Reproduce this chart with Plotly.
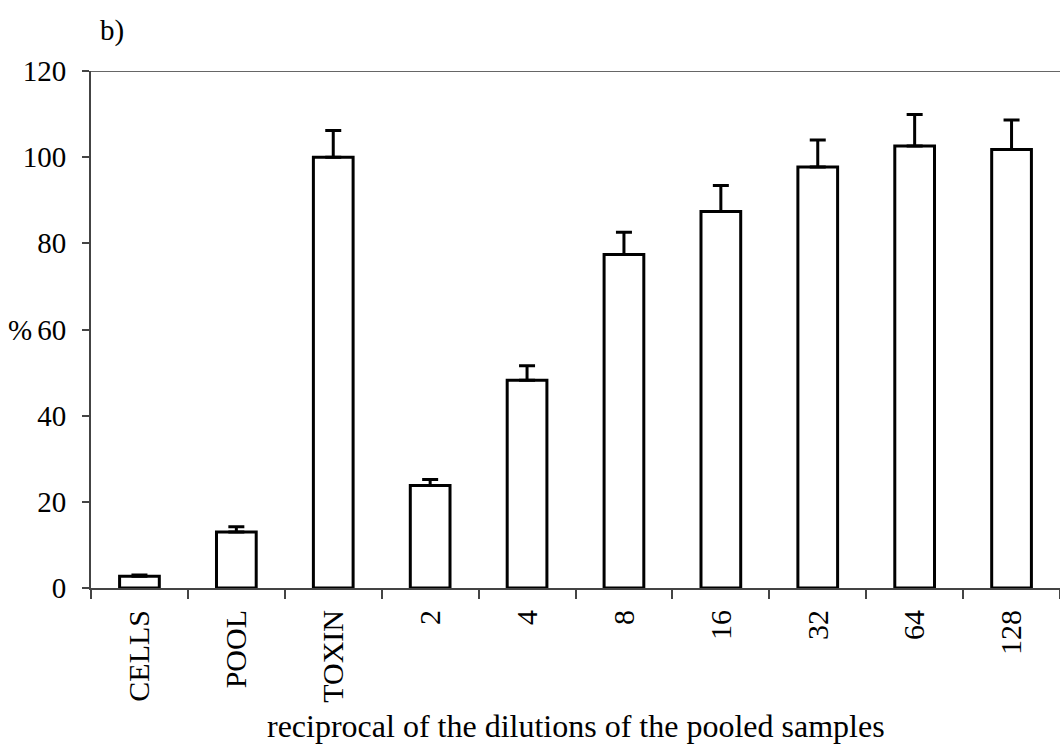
import plotly.graph_objects as go

categories = ["CELLS", "POOL", "TOXIN", "2", "4", "8", "16", "32", "64", "128"]
values = [2.7, 13.0, 100.0, 23.8, 48.2, 77.4, 87.4, 97.7, 102.6, 101.8]
errors = [0.3, 1.2, 6.2, 1.4, 3.4, 5.2, 6.0, 6.3, 7.3, 6.8]
y_ticks = [0, 20, 40, 60, 80, 100, 120]

FONT = "Liberation Serif, Times New Roman, serif"

fig = go.Figure()
fig.add_trace(go.Bar(
    x=categories, y=values,
    marker=dict(color="white", line=dict(color="black", width=3)),
    error_y=dict(type="data", symmetric=False, array=errors,
                 arrayminus=[0] * len(errors), color="black", thickness=3, width=8),
    showlegend=False,
))

fig.add_shape(type="line", xref="paper", yref="y", x0=0, x1=1, y0=120, y1=120,
              line=dict(color="#666", width=2))

fig.add_annotation(text="b)", xref="paper", yref="paper", x=0.0, y=1.0,
                   xshift=7, yshift=41, xanchor="left", yanchor="middle", showarrow=False,
                   font=dict(family=FONT, size=29, color="black"))
fig.add_annotation(text="%", xref="paper", yref="y", x=0, y=60, xshift=-57,
                   xanchor="right", yanchor="middle", showarrow=False,
                   font=dict(family=FONT, size=29, color="black"))
fig.add_annotation(text="reciprocal of the dilutions of the pooled samples",
                   xref="paper", yref="paper", x=0.5, y=0, yshift=-138,
                   xanchor="center", yanchor="middle", showarrow=False,
                   font=dict(family=FONT, size=32, color="black"))

fig.update_layout(
    width=1060, height=750,
    margin=dict(l=91, r=0, t=71, b=162),
    paper_bgcolor="white", plot_bgcolor="white",
    bargap=0.59,
    font=dict(family=FONT, size=29, color="black"),
    xaxis=dict(
        type="category", tickson="boundaries", ticks="outside", ticklen=9,
        tickcolor="#444", tickwidth=2, tickangle=-90,
        showline=True, linecolor="#444", linewidth=2, showgrid=False,
        ticklabelstandoff=8,
        tickfont=dict(family=FONT, size=30, color="black"),
    ),
    yaxis=dict(
        range=[0, 120], tickvals=y_ticks, ticks="outside", ticklen=7,
        tickcolor="#444", tickwidth=2, showline=True, linecolor="#444", linewidth=2,
        showgrid=False, zeroline=False, ticklabelstandoff=10,
        tickfont=dict(family=FONT, size=29, color="black"),
    ),
)

fig.write_html("out.html")
